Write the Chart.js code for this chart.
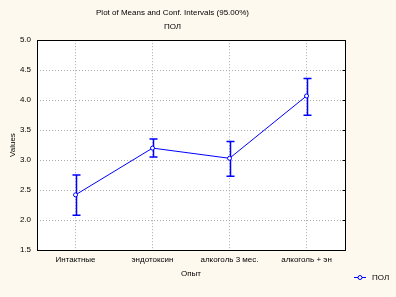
<!DOCTYPE html>
<html>
<head>
<meta charset="utf-8">
<script src="https://cdn.jsdelivr.net/npm/chart.js@4"></script>
<style>
html,body{margin:0;padding:0;background:#fdf9ee;}
#c{display:block;}
</style>
</head>
<body>
<canvas id="c" width="396" height="297"></canvas>
<script>
const categories = ['Интактные', 'эндотоксин', 'алкоголь 3 мес.', 'алкоголь + эн'];
const means = [2.42, 3.20, 3.03, 4.07];
const upperCI = [2.75, 3.35, 3.31, 4.36];
const lowerCI = [2.08, 3.05, 2.73, 3.75];
const yTicks = [1.5, 2.0, 2.5, 3.0, 3.5, 4.0, 4.5, 5.0];
const titleText = 'Plot of Means and Conf. Intervals (95.00%)';
const subtitleText = 'ПОЛ';
const seriesName = 'ПОЛ';
const xTitle = 'Опыт';
const yTitle = 'Values';

const FONT = "'Liberation Sans', Arial, sans-serif";
const BLUE = '#0000ff';

const bgPlugin = {
  id: 'bg',
  beforeDraw(chart) {
    const {ctx, chartArea: a} = chart;
    ctx.save();
    ctx.fillStyle = '#fdf9ee';
    ctx.fillRect(0, 0, chart.width, chart.height);
    ctx.fillStyle = '#ffffff';
    ctx.fillRect(a.left, a.top, a.right - a.left, a.bottom - a.top);
    ctx.restore();
  }
};

const errorBars = {
  id: 'errorBars',
  beforeDatasetsDraw(chart) {
    const {ctx, scales: {x, y}} = chart;
    ctx.save();
    ctx.strokeStyle = BLUE;
    ctx.lineWidth = 1.5;
    for (let i = 0; i < means.length; i++) {
      const px = Math.round(x.getPixelForValue(i)) + 0.5;
      const yt = y.getPixelForValue(upperCI[i]);
      const yb = y.getPixelForValue(lowerCI[i]);
      ctx.beginPath();
      ctx.moveTo(px, yt); ctx.lineTo(px, yb);
      ctx.moveTo(px - 4, yt); ctx.lineTo(px + 4, yt);
      ctx.moveTo(px - 4, yb); ctx.lineTo(px + 4, yb);
      ctx.stroke();
    }
    ctx.restore();
  }
};

const frame = {
  id: 'frame',
  afterDraw(chart) {
    const {ctx, chartArea: a, scales: {y}} = chart;
    ctx.save();
    ctx.strokeStyle = '#000';
    ctx.lineWidth = 1;
    const l = Math.round(a.left) + 0.5, r = Math.round(a.right) + 0.5;
    const t = Math.round(a.top) + 0.5, b = Math.round(a.bottom) + 0.5;
    ctx.strokeRect(l, t, r - l, b - t);
    ctx.beginPath();
    yTicks.forEach(v => {
      const py = Math.round(y.getPixelForValue(v)) + 0.5;
      ctx.moveTo(r - 3, py); ctx.lineTo(r, py);
    });
    ctx.stroke();
    // legend
    const ly = 277.5;
    ctx.strokeStyle = BLUE;
    ctx.beginPath();
    ctx.moveTo(354, ly); ctx.lineTo(366, ly);
    ctx.stroke();
    ctx.fillStyle = '#fff';
    ctx.beginPath();
    ctx.arc(360, ly, 2, 0, Math.PI * 2);
    ctx.fill(); ctx.stroke();
    ctx.fillStyle = '#000';
    ctx.font = '8px ' + FONT;
    ctx.textBaseline = 'middle';
    ctx.textAlign = 'left';
    ctx.fillText(seriesName, 372, ly);
    ctx.restore();
  }
};

Chart.defaults.font.family = FONT;
Chart.defaults.font.size = 8;
Chart.defaults.color = '#000';

new Chart(document.getElementById('c'), {
  type: 'line',
  data: {
    labels: categories,
    datasets: [{
      label: seriesName,
      data: means,
      borderColor: BLUE,
      borderWidth: 1,
      pointRadius: 2,
      pointBorderWidth: 1,
      pointBackgroundColor: '#ffffff',
      pointBorderColor: BLUE,
      tension: 0,
      fill: false
    }]
  },
  options: {
    responsive: false,
    animation: false,
    devicePixelRatio: 1,
    layout: {padding: {left: 0, right: 51, top: 0, bottom: 0}},
    plugins: {
      legend: {display: false},
      tooltip: {enabled: false},
      title: {
        display: true,
        text: titleText,
        font: {size: 8, weight: 'normal', family: FONT},
        color: '#000',
        padding: {top: 8, bottom: 4}
      },
      subtitle: {
        display: true,
        text: subtitleText,
        font: {size: 8, weight: 'normal', family: FONT},
        color: '#000',
        padding: {top: 0, bottom: 9}
      }
    },
    scales: {
      x: {
        type: 'category',
        offset: true,
        grid: {display: true, color: '#aaaaaa', drawTicks: false, offset: false},
        border: {display: false, dash: [1, 2]},
        ticks: {padding: 5, maxRotation: 0, autoSkip: false, font: {size: 8}},
        title: {display: true, text: xTitle, font: {size: 8}, padding: {top: 4, bottom: 18}},
        afterFit(s) { s.height = 47; }
      },
      y: {
        min: 1.5,
        max: 5.0,
        afterBuildTicks(s) { s.ticks = yTicks.map(v => ({value: v})); },
        grid: {display: true, color: '#aaaaaa', drawTicks: false},
        border: {display: false, dash: [1, 2]},
        ticks: {padding: 6, font: {size: 8}, callback: v => Number(v).toFixed(1)},
        title: {display: true, text: yTitle, font: {size: 8}, padding: {top: 8, bottom: 0}},
        afterFit(s) { s.width = 37; }
      }
    }
  },
  plugins: [bgPlugin, errorBars, frame]
});
</script>
</body>
</html>
